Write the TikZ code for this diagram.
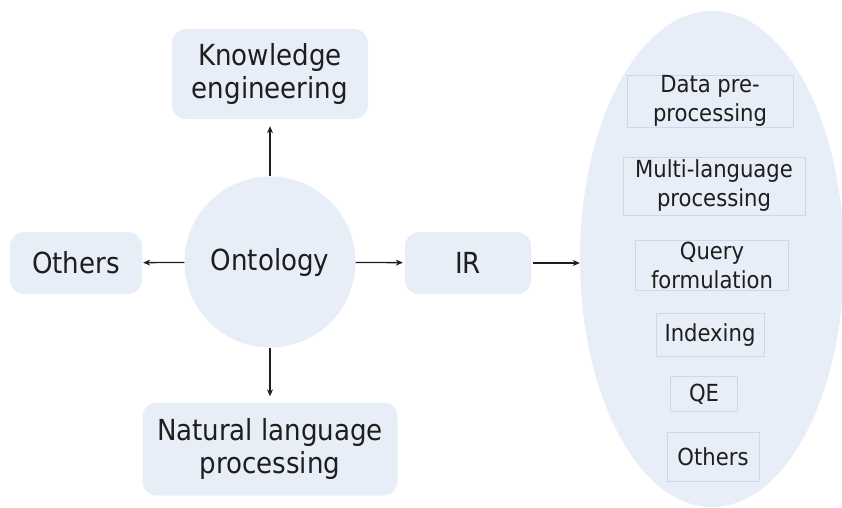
\documentclass[tikz,border=0pt]{standalone}
\usepackage{fontspec}
\setmainfont{DejaVu Sans Condensed}
\usetikzlibrary{shapes.geometric,arrows.meta}
\definecolor{panel}{HTML}{E8EEF7}
\definecolor{frame}{HTML}{CCD8EC}
\definecolor{ink}{HTML}{1E1E1E}
\begin{document}
\begin{tikzpicture}[x=1pt,y=-1pt,
  bigbox/.style={fill=panel, rounded corners=14pt, align=center, text=ink,
    font=\fontsize{29}{33}\selectfont, inner sep=0pt},
  smallbox/.style={draw=frame, line width=0.8pt, align=center, text=ink,
    font=\fontsize{23.5}{29}\selectfont, inner sep=0pt},
  link/.style={-{Stealth[length=7pt,width=6pt]}, line width=1.3pt, draw=ink}]
\useasboundingbox (0,0) rectangle (842,507);

% IR sub-tasks panel
\begin{scope}
  \clip (0,0) rectangle (842,507);
  \node[ellipse, fill=panel, minimum width=264pt, minimum height=496pt, inner sep=0pt] (tasks) at (712,259) {};
\end{scope}

% central concept and neighbours
\node[circle, fill=panel, minimum size=171pt, inner sep=0pt, text=ink,
      font=\fontsize{29}{33}\selectfont] (onto) at (270,262) {Ontology};
\node[bigbox, minimum width=196pt, minimum height=90pt] (ke) at (270,74) {Knowledge\\engineering};
\node[bigbox, minimum width=132pt, minimum height=62pt] (oth) at (76,263) {Others};
\node[bigbox, minimum width=126pt, minimum height=62pt] (ir) at (468,263) {IR};
\node[bigbox, minimum width=255pt, minimum height=93pt] (nlp) at (270,449) {Natural language\\processing};

% sub-task boxes
\node[smallbox, minimum width=166pt, minimum height=52pt] (dp) at (710,101) {Data pre-\\processing};
\node[smallbox, minimum width=182pt, minimum height=58pt] (ml) at (714,186) {Multi-language\\processing};
\node[smallbox, minimum width=153pt, minimum height=50pt] (qf) at (712,265) {Query\\formulation};
\node[smallbox, minimum width=108pt, minimum height=43pt] (idx) at (710,335) {Indexing};
\node[smallbox, minimum width=67pt, minimum height=35pt] (qe) at (704,394) {QE};
\node[smallbox, minimum width=92pt, minimum height=49pt] (oth2) at (713,457) {Others};

% connectors
\draw[link, shorten >=7pt] (onto) -- (ke);
\draw[link, shorten >=6pt] (onto) -- (nlp);
\draw[link, shorten >=1pt] (onto) -- (oth);
\draw[link, shorten >=2pt] (onto) -- (ir);
\draw[link, shorten <=2pt] (ir.east) -- (ir.east -| tasks.west);
\end{tikzpicture}
\end{document}
